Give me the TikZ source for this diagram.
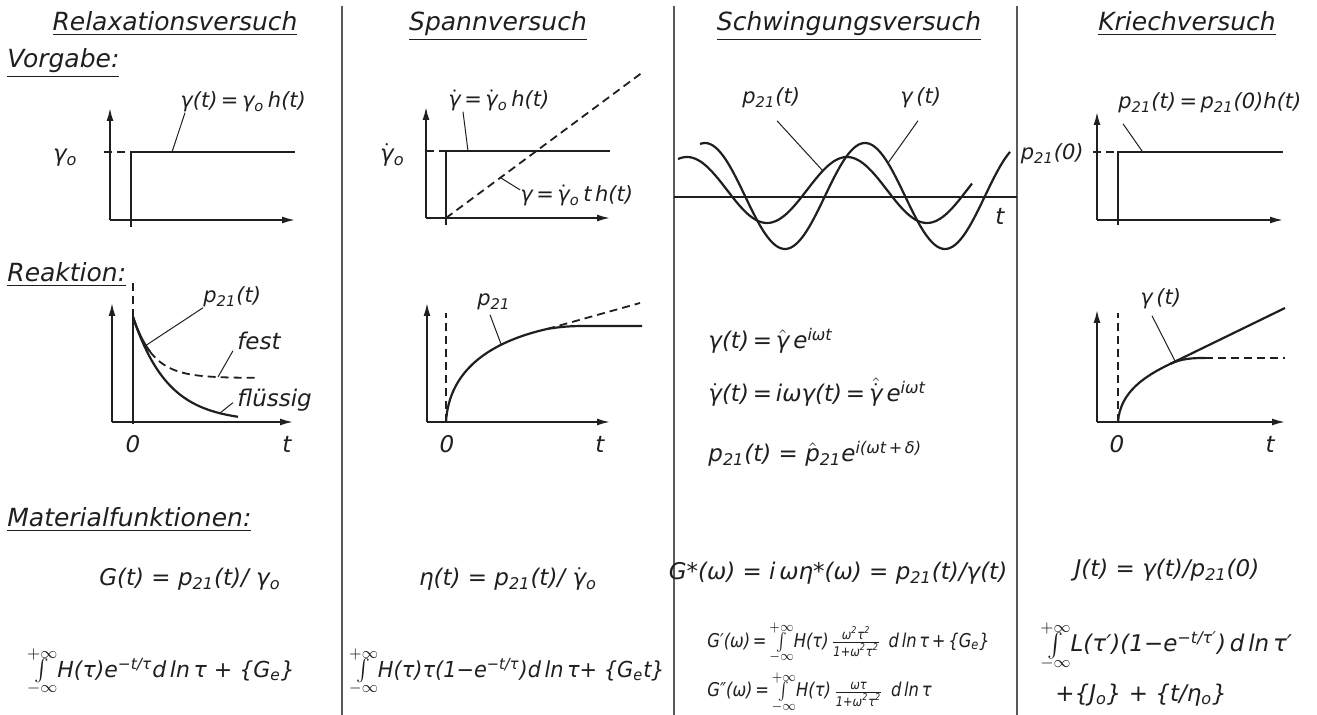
\documentclass[tikz,border=0pt]{standalone}
\usepackage{amsmath}
\usepackage{graphicx}
\usepackage{fontspec}
\setmainfont{DejaVu Sans}
\usepackage{tikz}
\usetikzlibrary{arrows.meta,positioning}
\definecolor{tinte}{gray}{0.12}
\newcommand{\tief}[1]{\textsubscript{#1}}
\newcommand{\hoch}[1]{\textsuperscript{#1}}
\newcommand{\gamdot}{\ensuremath{\dot{\text{γ}}}}
\newcommand{\gamhat}{\ensuremath{\hat{\text{γ}}}}
\newcommand{\gamhatdot}{\ensuremath{\hat{\dot{\text{γ}}}}}
\newcommand{\phat}{\ensuremath{\hat{\text{p}}}}
\newcommand{\intinf}{\ensuremath{\vcenter{\offinterlineskip\halign{\hfil##\hfil\cr
    $\scriptstyle+\infty$\cr\noalign{\kern-0.8pt}$\int$\cr\noalign{\kern-0.3pt}
    $\scriptstyle-\infty$\cr}}}}

\begin{document}
\begin{tikzpicture}[x=0.5pt,y=-0.5pt,
    titel/.style={font=\fontsize{12.5}{15}\selectfont\itshape, inner sep=0pt, text=tinte},
    lbl/.style={font=\fontsize{10.5}{12}\selectfont\itshape, inner sep=0pt, text=tinte},
    frml/.style={font=\fontsize{11.5}{14}\selectfont\itshape, inner sep=0pt, text=tinte},
    intg/.style={font=\fontsize{11}{13}\selectfont\itshape, inner sep=0pt, text=tinte},
    klein/.style={font=\fontsize{9.5}{11}\selectfont\itshape, inner sep=0pt, text=tinte},
    achse/.style={line width=0.85pt, draw=tinte, -{Latex[length=6.5pt,width=3.5pt]}},
    kurve/.style={line width=1.1pt, draw=tinte},
    strich/.style={line width=0.9pt, draw=tinte, dash pattern=on 4pt off 2.5pt},
    zeiger/.style={line width=0.5pt, draw=tinte},
    trenn/.style={line width=1pt, draw=black!65}]
    \useasboundingbox (0,0) rectangle (1317,715);

    \draw[trenn] (342,6) -- (342,715);
    \draw[trenn] (674,6) -- (674,715);
    \draw[trenn] (1017,6) -- (1017,715);

    \node (hRel) [titel, anchor=base] at (175,31) {\underline{Relaxationsversuch}};
    \node (hSpa) [titel, anchor=base] at (498,31) {\underline{Spannversuch}};
    \node (hSch) [titel, anchor=base] at (849,31) {\underline{Schwingungsversuch}};
    \node (hKri) [titel, anchor=base] at (1187,31) {\underline{Kriechversuch}};
    \node (vorg) [titel, anchor=base west] at (7,68) {\underline{Vorgabe:}};
    \node (reak) [titel, anchor=base west] at (7,282) {\underline{Reaktion:}};
    \node (matf) [titel, anchor=base west] at (7,527) {\underline{Materialfunktionen:}};

    % Vorgabe
    \draw[achse] (110,220) -- (110,108);
    \draw[achse] (110,220) -- (295,220);
    \draw[kurve] (131,227) -- (131,152) -- (295,152);
    \draw[strich] (104,152) -- (131,152);
    \node (gR) [lbl, anchor=base west] at (180,108) {γ(t)\,=\,γ\tief{o}\,h(t)};
    \node (g0R) [frml, anchor=base east] at (78,162) {γ\tief{o}};
    \coordinate (kR) at (172,152);
    \draw[zeiger] ([xshift=2.5pt]gR.south west) -- (kR);

    \draw[achse] (426,218) -- (426,107);
    \draw[achse] (426,218) -- (610,218);
    \draw[kurve] (446,225) -- (446,151) -- (610,151);
    \draw[strich] (426,151) -- (446,151);
    \draw[strich] (446,218) -- (643,72);
    \node (gS) [lbl, anchor=base west] at (448,107) {\gamdot\,=\,\gamdot\tief{o}\,h(t)};
    \node (g0S) [frml, anchor=base east] at (405,162) {\gamdot\tief{o}};
    \node (gS2) [lbl, anchor=base west] at (520,202) {γ\,=\,\gamdot\tief{o}\,t\,h(t)};
    \coordinate (kS) at (468,151);
    \coordinate (kS2) at (501,178);
    \draw[zeiger] ([xshift=7.5pt]gS.south west) -- (kS);
    \draw[zeiger] ([yshift=3pt]gS2.west) -- (kS2);

    \draw[line width=0.7pt, draw=tinte] (674,197) -- (1017,197);
    \draw[kurve, domain=678:972, samples=120, smooth] plot (\x, {190+33*cos(2.25*(\x-767))});
    \draw[kurve, domain=700:1010, samples=120, smooth] plot (\x, {196+53*cos(2.25*(\x-785))});
    \node (pW) [lbl, anchor=base west] at (742,104) {p\tief{21}(t)};
    \node (gW) [lbl, anchor=base west] at (900,104) {γ\,(t)};
    \node (tW) [frml, anchor=base west] at (995,225) {t};
    \coordinate (kWp) at (823,171);
    \coordinate (kWg) at (888,163);
    \draw[zeiger] ([xshift=17.5pt,yshift=-6pt]pW.south west) -- (kWp);
    \draw[zeiger] ([xshift=9pt,yshift=-6pt]gW.south west) -- (kWg);

    \draw[achse] (1097,220) -- (1097,112);
    \draw[achse] (1097,220) -- (1283,220);
    \draw[kurve] (1118,225) -- (1118,152) -- (1283,152);
    \draw[strich] (1093,152) -- (1118,152);
    \node (pK) [lbl, anchor=base west] at (1118,109) {p\tief{21}(t)\,=\,p\tief{21}(0)h(t)};
    \node (p0K) [lbl, anchor=base east] at (1084,160) {p\tief{21}(0)};
    \coordinate (kK) at (1142,151);
    \draw[zeiger] ([xshift=2.5pt,yshift=-5pt]pK.south west) -- (kK);

    % Reaktion
    \draw[achse] (112,422) -- (112,303);
    \draw[achse] (112,422) -- (293,422);
    \draw[kurve] (133,424) -- (133,317);
    \draw[strich] (133,317) -- (133,282);
    \draw[kurve, domain=133:238, samples=60, smooth] plot (\x, {317+105*(1-exp(-(\x-133)/35))});
    \draw[kurve, domain=133:150, samples=20, smooth] plot (\x, {317+61*(1-exp(-(\x-133)/20.3))});
    \draw[strich, domain=150:257, samples=60, smooth] plot (\x, {317+61*(1-exp(-(\x-133)/20.3))});
    \node (pR) [lbl, anchor=base west] at (203,303) {p\tief{21}(t)};
    \node (fest) [frml, anchor=base west] at (237,350) {fest};
    \node (flue) [frml, anchor=base west] at (237,407) {flüssig};
    \node (nR) [frml, anchor=base] at (133,453) {0};
    \node (tR) [frml, anchor=base] at (287,453) {t};
    \coordinate (kRp) at (145,346);
    \coordinate (kRf) at (218,377);
    \coordinate (kRl) at (220,413);
    \draw[zeiger] (pR.south west) -- (kRp);
    \draw[zeiger] ([xshift=-2pt]fest.south west) -- (kRf);
    \draw[zeiger] ([xshift=-2pt,yshift=-1pt]flue.west) -- (kRl);

    \draw[achse] (427,422) -- (427,303);
    \draw[achse] (427,422) -- (610,422);
    \draw[strich] (446,422) -- (446,313);
    \draw[kurve] (446,422) .. controls (449,370) and (490,342) .. (547,329)
        .. controls (565,326) and (575,326) .. (590,326) -- (642,326);
    \draw[strich] (547,329) -- (640,303);
    \node (pS) [lbl, anchor=base west] at (477,306) {p\tief{21}};
    \node (nS) [frml, anchor=base] at (447,453) {0};
    \node (tS) [frml, anchor=base] at (600,453) {t};
    \coordinate (kSp) at (501,344);
    \draw[zeiger] ([xshift=6.5pt,yshift=-2pt]pS.south west) -- (kSp);

    \node (fW1) [frml, anchor=base west] at (708,349) {γ(t)\,=\,\gamhat\,e\hoch{iωt}};
    \node (fW2) [frml, anchor=base west] at (708,402) {\gamdot(t)\,=\,iωγ(t)\,=\,\gamhatdot\,e\hoch{iωt}};
    \node (fW3) [frml, anchor=base west] at (708,462) {p\tief{21}(t) = \phat\tief{21}e\hoch{i(ωt\,+\,δ)}};

    \draw[achse] (1097,422) -- (1097,310);
    \draw[achse] (1097,422) -- (1285,422);
    \draw[strich] (1118,422) -- (1118,313);
    \draw[kurve] (1118,422) .. controls (1120,392) and (1145,376) .. (1170,364) -- (1285,308);
    \draw[kurve] (1170,364) .. controls (1182,358.5) and (1192,358) .. (1205,358);
    \draw[strich] (1205,358) -- (1285,358);
    \node (gK) [lbl, anchor=base west] at (1140,305) {γ\,(t)};
    \node (nK) [frml, anchor=base] at (1117,453) {0};
    \node (tK) [frml, anchor=base] at (1270,453) {t};
    \coordinate (kKg) at (1175,361);
    \draw[zeiger] ([xshift=6pt,yshift=-3pt]gK.south west) -- (kKg);

    % Materialfunktionen
    \node (mR1) [frml, anchor=base] at (190,586) {G(t) = p\tief{21}(t)/ γ\tief{o}};
    \node (mR2) [intg, anchor=base] at (161,677) {\intinf H(τ)e\hoch{−t/τ}d\,ln\,τ + \{G\tief{e}\}};
    \node (mS1) [frml, anchor=base] at (508,586) {η(t) = p\tief{21}(t)/ \gamdot\tief{o}};
    \node (mS2) [intg, anchor=base] at (507,677) {\scalebox{0.95}[1]{\intinf H(τ)τ(1−e\hoch{−t/τ})d\,ln\,τ+ \{G\tief{e}t\}}};
    \node (mW1) [frml, anchor=base] at (838,580) {G*(ω) = i\,ωη*(ω) = p\tief{21}(t)/γ(t)};
    \node (mW2) [klein, anchor=base west] at (707,647) {\scalebox{0.86}[1]{G′(ω)\,=\,\intinf H(τ)\,\ensuremath{\frac{\text{ω\hoch{2}τ\hoch{2}}}{\text{1+ω\hoch{2}τ\hoch{2}}}}\, d\,ln\,τ\,+\,\{G\tief{e}\}}};
    \node (mW3) [klein, anchor=base west] at (707,697) {\scalebox{0.86}[1]{G″(ω)\,=\,\intinf H(τ)\,\ensuremath{\frac{\text{ωτ}}{\text{1+ω\hoch{2}τ\hoch{2}}}}\, d\,ln\,τ}};
    \node (mK1) [frml, anchor=base] at (1167,577) {J(t) = γ(t)/p\tief{21}(0)};
    \node (mK2) [frml, anchor=base west] at (1040,652) {\intinf L(τ′)(1−e\hoch{−t/τ′})\,d\,ln\,τ′};
    \node (mK3) [frml, anchor=base west] at (1055,701) {+\{J\tief{o}\} + \{t/η\tief{o}\}};
\end{tikzpicture}
\end{document}
